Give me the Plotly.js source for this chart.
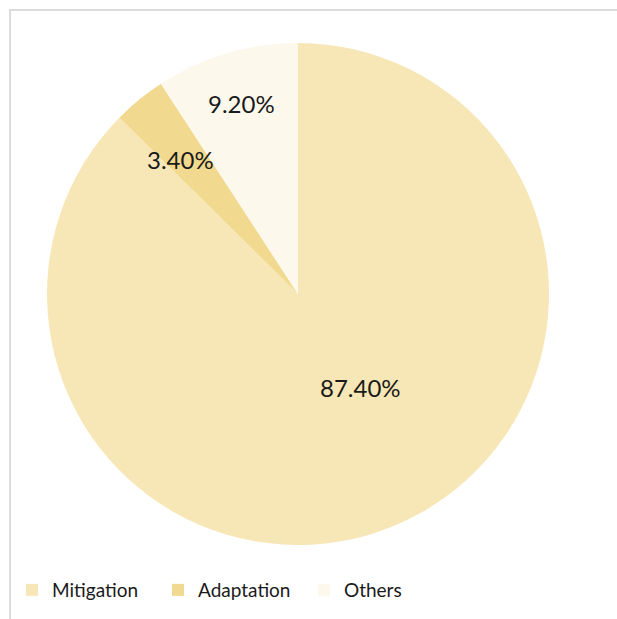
<!DOCTYPE html>
<html>
<head>
<meta charset="utf-8">
<script src="https://cdn.plot.ly/plotly-3.0.1.min.js"></script>
<style>
  html, body { margin: 0; padding: 0; background: #fff; }
  #frame { position: absolute; left: 9px; top: 9px; width: 608px; height: 610px;
           border-top: 2px solid #dcdcdc; border-left: 2px solid #dcdcdc; box-sizing: border-box; }
  #chart { position: absolute; left: 0; top: 0; width: 617px; height: 619px; }
</style>
</head>
<body>
<div id="frame"></div>
<div id="chart"></div>
<script>
// Data
const categories = ["Mitigation", "Adaptation", "Others"];
const shares = [87.4, 3.4, 9.2];
const valueLabels = ["87.40%", "3.40%", "9.20%"];

// Styles
const sliceColors = ["#F8E7B6", "#F1DA8F", "#FDF8EC"];
const labelRadius = [0.45, 0.71, 0.79];   // fraction of radius
const labelAngleShift = [-11, -2, 0];     // degrees

const W = 617, H = 619;
const margin = { l: 47, r: 68, t: 43, b: 74 };

const total = shares.reduce((a, b) => a + b, 0);
let cum = 0;
const annotations = shares.map((v, i) => {
  const mid = (cum + v / 2) / total * 360 + labelAngleShift[i];
  cum += v;
  const th = mid * Math.PI / 180;
  const r = 0.5 * labelRadius[i];
  return {
    xref: "paper", yref: "paper",
    x: 0.5 + r * Math.sin(th),
    y: 0.5 + r * Math.cos(th),
    text: valueLabels[i],
    showarrow: false,
    xanchor: "center", yanchor: "middle",
    font: { family: "Lato, 'Open Sans', sans-serif", size: 24, color: "#1a1a1a" }
  };
});

const trace = {
  type: "pie",
  labels: categories,
  values: shares,
  sort: false,
  direction: "clockwise",
  rotation: 0,
  textinfo: "none",
  hoverinfo: "label+percent",
  marker: { colors: sliceColors, line: { width: 0 } }
};

const layout = {
  width: W, height: H,
  margin: margin,
  paper_bgcolor: "rgba(0,0,0,0)",
  plot_bgcolor: "rgba(0,0,0,0)",
  showlegend: true,
  legend: {
    orientation: "h",
    xref: "container", yref: "container",
    x: 12 / W, xanchor: "left",
    y: 1 - 590 / H, yanchor: "middle",
    font: { family: "Lato, 'Open Sans', sans-serif", size: 19, color: "#1a1a1a" },
    itemwidth: 30,
    entrywidth: 101, entrywidthmode: "pixels",
    traceorder: "normal"
  },
  annotations: annotations
};

Plotly.newPlot("chart", [trace], layout, { displayModeBar: false, staticPlot: true });
</script>
</body>
</html>
